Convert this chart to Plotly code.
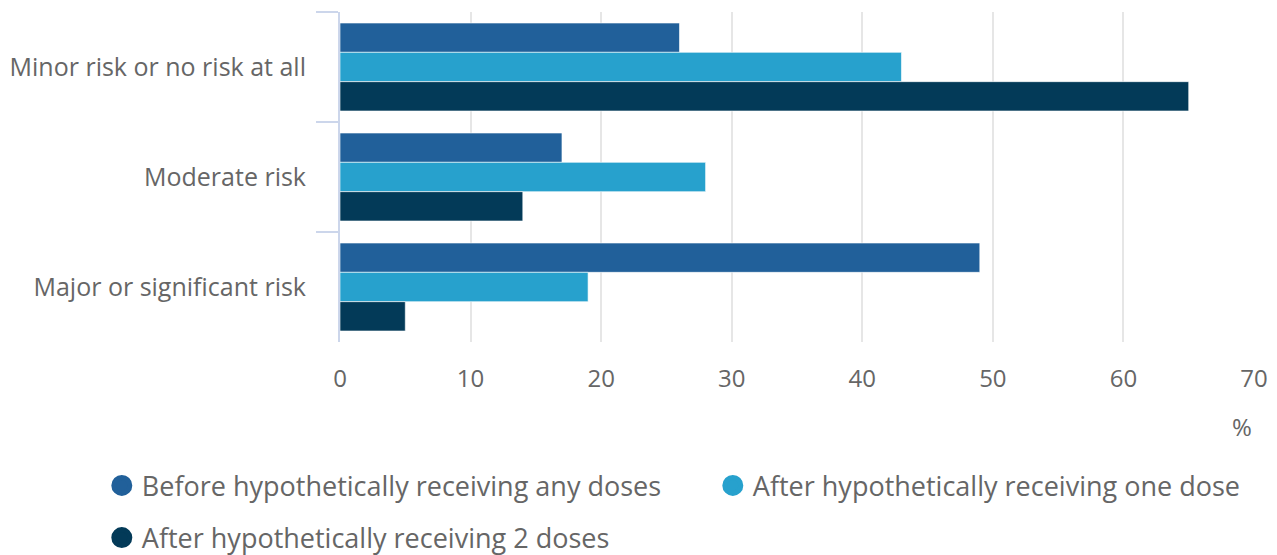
import plotly.graph_objects as go

categories = ["Minor risk or no risk at all", "Moderate risk", "Major or significant risk"]
series_names = [
    "Before hypothetically receiving any doses",
    "After hypothetically receiving one dose",
    "After hypothetically receiving 2 doses",
]
before_any = [26, 17, 49]
after_one = [43, 28, 19]
after_two = [65, 14, 5]
colors = ["#21609a", "#27a1cd", "#033a58"]
x_ticks = [0, 10, 20, 30, 40, 50, 60, 70]

values = [before_any, after_one, after_two]
legends = ["legend", "legend", "legend2"]

fig = go.Figure()
for name, vals, col in zip(series_names, values, colors):
    fig.add_trace(go.Bar(
        y=categories, x=vals, orientation="h", name=name,
        marker=dict(color=col, line=dict(color="rgba(255,255,255,0.6)", width=1)),
        showlegend=False, hoverinfo="x+y",
    ))
for name, col, lg in zip(series_names, colors, legends):
    fig.add_trace(go.Scatter(
        x=[None], y=[None], mode="markers", name=name,
        marker=dict(color=col, size=16, symbol="circle",
                    line=dict(color=col, width=8)),
        showlegend=True, legend=lg,
    ))

font_family = "Open Sans"
grey = "#666666"

fig.update_layout(
    width=1269, height=547,
    margin=dict(l=332, r=23, t=4, b=213, autoexpand=False),
    paper_bgcolor="white", plot_bgcolor="white",
    barmode="group", bargap=0.2, bargroupgap=0,
    font=dict(family=font_family, color=grey, size=24),
    xaxis=dict(
        range=[0, 70], tickvals=x_ticks, showgrid=True,
        gridcolor="#e6e6e6", gridwidth=2, zeroline=False,
        showline=False, ticks="", ticklabelstandoff=20, automargin=False,
        tickfont=dict(size=24, color=grey, family=font_family),
    ),
    yaxis=dict(
        autorange="reversed", type="category", tickson="boundaries",
        ticks="outside", ticklen=22, tickwidth=2, tickcolor="#ccd6eb",
        showline=True, linecolor="#ccd6eb", linewidth=2,
        showgrid=False, zeroline=False, ticklabelstandoff=27, automargin=False,
        tickfont=dict(size=25, color=grey, family=font_family),
    ),
    legend=dict(
        orientation="h", x=-0.2606, xanchor="left", y=-0.436, yanchor="middle",
        font=dict(size=27, color=grey, family=font_family),
        entrywidth=566, entrywidthmode="pixels", bgcolor="rgba(0,0,0,0)",
    ),
    legend2=dict(
        orientation="h", x=-0.2606, xanchor="left", y=-0.594, yanchor="middle",
        font=dict(size=27, color=grey, family=font_family),
        bgcolor="rgba(0,0,0,0)",
    ),
    annotations=[dict(
        text="%", xref="paper", yref="paper", x=1.0, y=-0.256,
        xanchor="right", yanchor="middle", showarrow=False,
        font=dict(size=24, color=grey, family=font_family),
    )],
)

fig.write_html("out.html")
